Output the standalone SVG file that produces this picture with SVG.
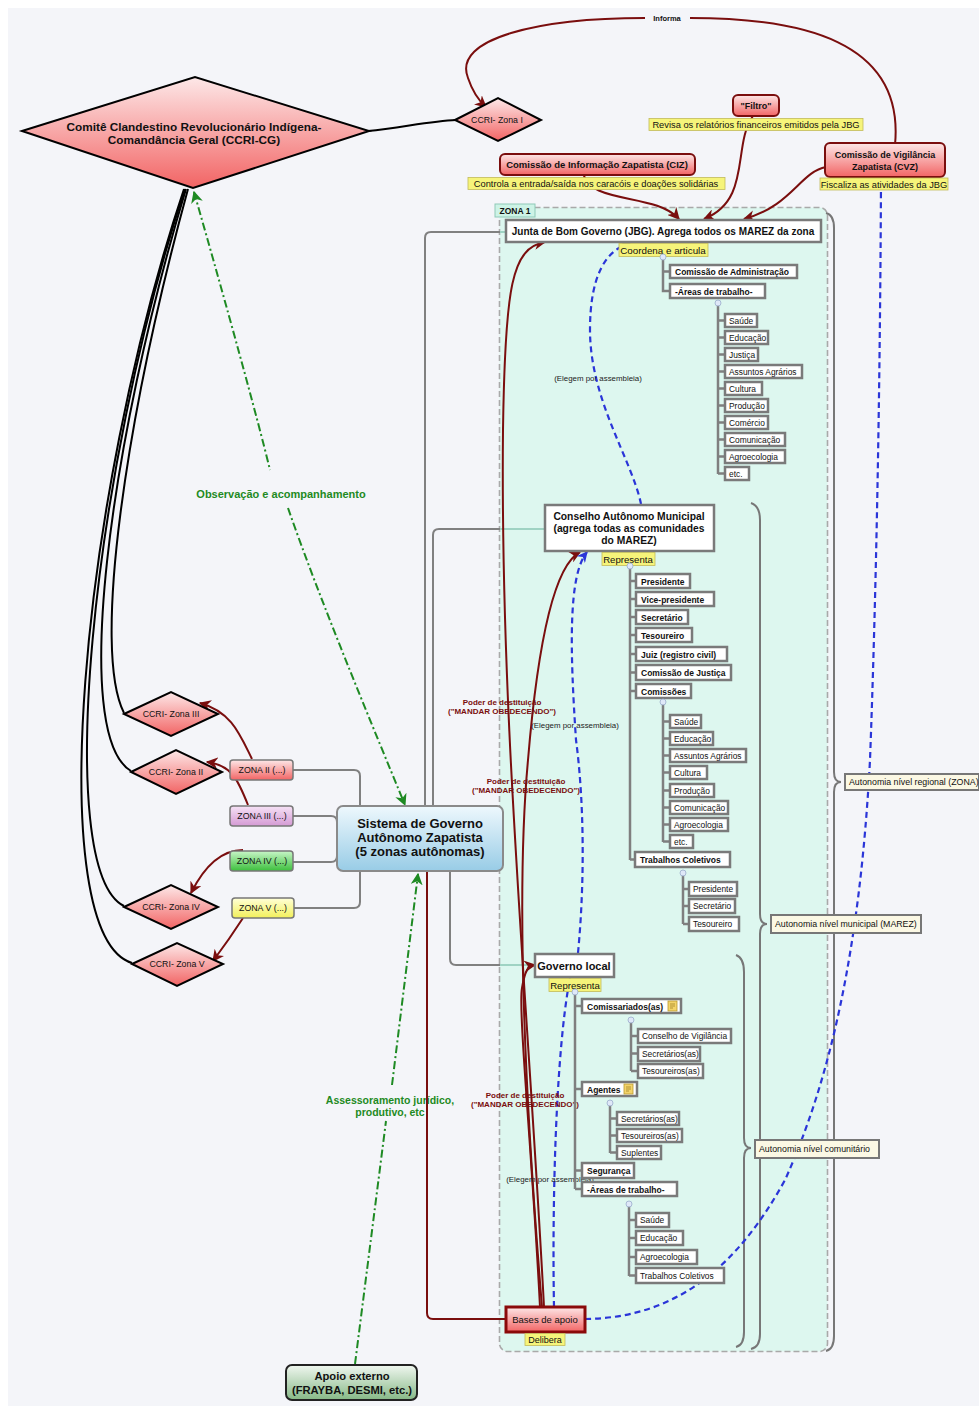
<svg xmlns="http://www.w3.org/2000/svg" width="979" height="1406" viewBox="0 0 979 1406">
<defs>
<style>
.t{font-family:"Liberation Sans",Arial,sans-serif;fill:#111}
.b{font-weight:bold}
.c{text-anchor:middle}
.bx{fill:#fff;stroke:#7a7a7a;stroke-width:2.5}
.yl{fill:#f6f47a;stroke:#c2bb5a;stroke-width:0.8}
.gl{fill:none;stroke:#808080;stroke-width:2}
.tl{fill:none;stroke:#7f7f7f;stroke-width:2.5}
.rd{fill:none;stroke:#7a0e0e;stroke-width:2}
.bl{fill:none;stroke:#2a35d8;stroke-width:2.2;stroke-dasharray:6 4}
.gr{fill:none;stroke:#1e8a23;stroke-width:2;stroke-dasharray:8 3 2 3}
.bk{fill:none;stroke:#000;stroke-width:2}
.br{fill:none;stroke:#777;stroke-width:2}
.lb{fill:#fbf8e4;stroke:#777;stroke-width:2}
.cm{fill:#dfe8f8;stroke:#9aaccc;stroke-width:0.8}
.pd{font-family:"Liberation Sans",Arial,sans-serif;font-weight:bold;font-size:8px;fill:#7a0e0e;text-anchor:middle}
.el{font-family:"Liberation Sans",Arial,sans-serif;font-size:7.9px;fill:#222;text-anchor:middle}
.s{font-size:8.8px}
.i{font-size:8.4px}
.m{font-size:8.5px;font-weight:bold}
.y{font-size:9.3px}
.gt{fill:#1e8a23}
</style>
<linearGradient id="gR" x1="0" y1="0" x2="0" y2="1"><stop offset="0" stop-color="#fde8e8"/><stop offset="1" stop-color="#f26464"/></linearGradient>
<linearGradient id="gB" x1="0" y1="0" x2="0" y2="1"><stop offset="0" stop-color="#eef8fd"/><stop offset="1" stop-color="#98cce6"/></linearGradient>
<linearGradient id="gG" x1="0" y1="0" x2="0" y2="1"><stop offset="0" stop-color="#f0f7f0"/><stop offset="1" stop-color="#86b886"/></linearGradient>
<linearGradient id="gP" x1="0" y1="0" x2="0" y2="1"><stop offset="0" stop-color="#f6e2f6"/><stop offset="1" stop-color="#d49ad4"/></linearGradient>
<linearGradient id="gV" x1="0" y1="0" x2="0" y2="1"><stop offset="0" stop-color="#c8f6c8"/><stop offset="1" stop-color="#3cbf3c"/></linearGradient>
<linearGradient id="gY" x1="0" y1="0" x2="0" y2="1"><stop offset="0" stop-color="#ffffd8"/><stop offset="1" stop-color="#f2f05a"/></linearGradient>
<marker id="aR" viewBox="0 0 10 10" refX="9" refY="5" markerUnits="userSpaceOnUse" markerWidth="12" markerHeight="12" orient="auto"><path d="M0,0 L10,5 L0,10 L3,5z" fill="#7a0e0e"/></marker>
<marker id="aB" viewBox="0 0 10 10" refX="9" refY="5" markerUnits="userSpaceOnUse" markerWidth="11" markerHeight="11" orient="auto"><path d="M0,0 L10,5 L0,10 L3,5z" fill="#2a35d8"/></marker>
<marker id="aG" viewBox="0 0 10 10" refX="9" refY="5" markerUnits="userSpaceOnUse" markerWidth="12" markerHeight="12" orient="auto-start-reverse"><path d="M0,0 L10,5 L0,10 L3,5z" fill="#1e8a23"/></marker>
</defs>

<rect x="0" y="0" width="979" height="1406" fill="#fff"/>
<rect x="8" y="8" width="971" height="1398" fill="#f4f5f9"/>

<!-- Zone 1 container -->
<g id="zona1">
<rect x="499.5" y="207.5" width="328" height="1144" rx="8" fill="#ddf7ef" stroke="#a9a9a9" stroke-width="1.6" stroke-dasharray="6 3"/>
<rect x="495" y="204" width="40" height="13" fill="#cdf3e6" stroke="#8fc9b8" stroke-width="1"/>
<text class="t b" x="515" y="214" font-size="8.5" text-anchor="middle">ZONA 1</text>
</g>

<!-- braces -->
<g id="braces">
<path class="br" d="M826,213 Q834,215 834,228 L834,772 Q834,782 841,782 Q834,782 834,792 L834,1336 Q834,1349 826,1351"/>
<path class="br" d="M751,503 Q760,506 760,520 L760,914 Q760,924 767,924 Q760,924 760,934 L760,1334 Q760,1347 751,1349"/>
<path class="br" d="M736,955 Q744,958 744,972 L744,1138 Q744,1148 751,1148 Q744,1148 744,1158 L744,1332 Q744,1345 736,1347"/>
</g>

<!-- connectors -->
<g id="connectors">
<!-- black lines from CCRI-CG -->
<path class="bk" stroke-width="3" d="M368,131 C400,128 430,121 456,120"/>
<path class="bk" d="M188,189 C125,420 92,650 124,713"/>
<path class="bk" d="M186,189 C110,440 70,735 131,771"/>
<path class="bk" d="M185,189 C92,470 52,870 124,906"/>
<path class="bk" d="M184,189 C80,500 42,935 132,963"/>
<!-- Informa -->
<path class="rd" marker-end="url(#aR)" d="M895,145 C905,40 800,18 690,18 M645,18 C540,18 452,38 468,78 C472,90 478,100 486,107"/>
<text class="t b" x="667" y="21" font-size="7.5" text-anchor="middle">Informa</text>
<!-- CIZ, Filtro, CVZ to JBG -->
<path class="rd" marker-end="url(#aR)" d="M583,172 C588,205 655,192 679,219"/>
<path class="rd" marker-end="url(#aR)" d="M753,116 C732,145 752,200 704,219"/>
<path class="rd" marker-end="url(#aR)" d="M826,167 C800,172 792,206 744,219"/>
<!-- ZONA to CCRI -->
<path class="rd" marker-end="url(#aR)" d="M252,759 C240,735 232,712 200,703"/>
<path class="rd" marker-end="url(#aR)" d="M248,805 C238,780 232,765 207,762"/>
<path class="rd" marker-end="url(#aR)" d="M243,850 C222,850 205,865 191,893"/>
<path class="rd" marker-end="url(#aR)" d="M243,918 C232,935 225,945 213,961"/>
<!-- grey connectors from Sistema -->
<path class="gl" d="M425,806 L425,238 Q425,232 431,232 L500,232"/>
<path d="M500,232 L506,232" stroke="#9fd3c3" stroke-width="2"/>
<path class="gl" d="M433,806 L433,535 Q433,529 439,529 L500,529"/>
<path d="M500,529 L544,529" stroke="#9fd3c3" stroke-width="2"/>
<path class="gl" d="M450,871 L450,959 Q450,965 456,965 L500,965"/>
<path d="M500,965 L535,965" stroke="#9fd3c3" stroke-width="2"/>
<path class="gl" d="M293,770 L354,770 Q360,770 360,776 L360,806"/>
<path class="gl" d="M293,816 L331,816 Q337,816 337,822"/>
<path class="gl" d="M293,862 L331,862 Q337,862 337,856"/>
<path class="gl" d="M293,908 L354,908 Q360,908 360,902 L360,871"/>
<!-- green -->
<path class="gr" marker-start="url(#aG)" d="M194,192 C225,300 258,420 270,470"/>
<path class="gr" marker-end="url(#aG)" d="M288,508 C320,600 370,720 405,805"/>
<text class="t b c gt" x="281" y="498" font-size="11">Observação e acompanhamento</text>
<path class="gr" d="M355,1364 L386,1121"/>
<path class="gr" marker-end="url(#aG)" d="M392,1085 L418,874"/>
<text class="t b c gt" x="390" y="1104" font-size="10.5">Assessoramento jurídico,</text>
<text class="t b c gt" x="390" y="1116" font-size="10.5">produtivo, etc</text>
<!-- dark red from Bases -->
<path class="rd" d="M506,1319 L433,1319 Q427,1319 427,1313 L427,871"/>
<path class="rd" stroke-width="2.4" marker-end="url(#aR)" d="M544,1307 C528,1000 500,720 503,430 C505,285 512,248 545,242"/>
<path class="rd" stroke-width="2.4" marker-end="url(#aR)" d="M542,1307 C525,1100 515,900 528,760 C538,640 555,565 580,552"/>
<path class="rd" stroke-width="2.4" marker-end="url(#aR)" d="M540,1307 C532,1150 518,1010 522,988 C525,970 528,966 535,965"/>
<!-- blue dashed -->
<path class="bl" marker-end="url(#aB)" d="M641,504 C632,460 590,400 590,330 C590,275 606,250 630,243"/>
<path class="bl" marker-end="url(#aB)" d="M578,953 C585,880 584,800 576,740 C570,650 568,575 587,552"/>
<path class="bl" marker-end="url(#aB)" d="M554,1307 C552,1200 556,1050 570,978"/>
<path class="bl" marker-end="url(#aB)" d="M585,1319 C680,1318 740,1262 785,1180 C830,1080 860,950 870,760 C876,600 880,400 881,180"/>
<text class="el" x="598" y="381">(Elegem por assembleia)</text>
<text class="el" x="575" y="728">(Elegem por assembleia)</text>
<text class="el" x="550" y="1182">(Elegem por assembleia)</text>
<text class="pd" x="502" y="705">Poder de destituição</text>
<text class="pd" x="502" y="714">("MANDAR OBEDECENDO")</text>
<text class="pd" x="526" y="784">Poder de destituição</text>
<text class="pd" x="526" y="793">("MANDAR OBEDECENDO")</text>
<text class="pd" x="525" y="1098">Poder de destituição</text>
<text class="pd" x="525" y="1107">("MANDAR OBEDECENDO")</text>
</g>

<!-- CCRI-CG -->
<g id="ccri-cg">
<polygon points="22,131 195,77 369,131 193,188" fill="url(#gR)" stroke="#000" stroke-width="2"/>
<text class="t b c" x="194" y="131" font-size="11.8">Comitê Clandestino Revolucionário Indígena-</text>
<text class="t b c" x="194" y="144" font-size="11.8">Comandância Geral (CCRI-CG)</text>
</g>
<g id="ccri-z1">
<polygon points="455,120 498,98 541,120 498,141" fill="url(#gR)" stroke="#000" stroke-width="2"/>
<text class="t c s" x="497" y="123">CCRI- Zona I</text>
</g>
<g id="ccri-z3">
<polygon points="124,714 171,692 218,714 171,736" fill="url(#gR)" stroke="#000" stroke-width="2"/>
<text class="t c s" x="171" y="717">CCRI- Zona III</text>
</g>
<g id="ccri-z2">
<polygon points="131,772 176,750 222,772 176,794" fill="url(#gR)" stroke="#000" stroke-width="2"/>
<text class="t c s" x="176" y="775">CCRI- Zona II</text>
</g>
<g id="ccri-z4">
<polygon points="124,907 171,885 218,907 171,929" fill="url(#gR)" stroke="#000" stroke-width="2"/>
<text class="t c s" x="171" y="910">CCRI- Zona IV</text>
</g>
<g id="ccri-z5">
<polygon points="132,964 177,943 223,964 177,986" fill="url(#gR)" stroke="#000" stroke-width="2"/>
<text class="t c s" x="177" y="967">CCRI- Zona V</text>
</g>

<!-- commissions -->
<g id="filtro">
<rect x="733" y="95" width="46" height="21" rx="5" fill="url(#gR)" stroke="#7a0e0e" stroke-width="2"/>
<text class="t b c" x="756" y="109" font-size="9">"Filtro"</text>
<rect class="yl" x="649" y="118.5" width="214" height="12"/>
<text class="t c y" x="756" y="128">Revisa os relatórios financeiros emitidos pela JBG</text>
</g>
<g id="ciz">
<rect x="500" y="154" width="195" height="21" rx="5" fill="url(#gR)" stroke="#7a0e0e" stroke-width="2"/>
<text class="t b c" x="597" y="168" font-size="9.5">Comissão de Informação Zapatista (CIZ)</text>
<rect class="yl" x="468" y="177.5" width="257" height="12"/>
<text class="t c y" x="596" y="187">Controla a entrada/saída nos caracóis e doações solidárias</text>
</g>
<g id="cvz">
<rect x="825" y="143" width="120" height="34" rx="5" fill="url(#gR)" stroke="#7a0e0e" stroke-width="2"/>
<text class="t b c" x="885" y="158" font-size="9">Comissão de Vigilância</text>
<text class="t b c" x="885" y="170" font-size="9">Zapatista (CVZ)</text>
<rect class="yl" x="820" y="178" width="128" height="12"/>
<text class="t c y" x="884" y="187.5">Fiscaliza as atividades da JBG</text>
</g>

<!-- JBG -->
<g id="jbg">
<rect class="bx" x="506" y="220" width="315" height="22"/>
<text class="t b c" x="663" y="235" font-size="10">Junta de Bom Governo (JBG). Agrega todos os MAREZ da zona</text>
<rect class="yl" x="619" y="243.5" width="89" height="13"/>
<text class="t c" x="663" y="253.5" font-size="9.8">Coordena e articula</text>
<path class="tl" d="M663,257 L663,291 L670,291 M663,271.5 L670,271.5"/>
<circle class="cm" cx="663" cy="257" r="3"/>
<rect class="bx" x="670" y="265" width="127" height="13"/>
<text class="t m" x="675" y="275">Comissão de Administração</text>
<rect class="bx" x="670" y="284" width="95" height="14"/>
<text class="t m" x="675" y="294.5">-Áreas de trabalho-</text>
<path class="tl" d="M718,303 L718,474 M718,320.5 L725,320.5 M718,337.5 L725,337.5 M718,354.5 L725,354.5 M718,371.5 L725,371.5 M718,388.5 L725,388.5 M718,405.5 L725,405.5 M718,422.5 L725,422.5 M718,439.5 L725,439.5 M718,456.5 L725,456.5 M718,473.5 L725,473.5"/>
<circle class="cm" cx="718" cy="303" r="3"/>
<g class="t i">
<rect class="bx" x="725" y="314" width="32" height="13"/><text x="729" y="323.5">Saúde</text>
<rect class="bx" x="725" y="331" width="43" height="13"/><text x="729" y="340.5">Educação</text>
<rect class="bx" x="725" y="348" width="33" height="13"/><text x="729" y="357.5">Justiça</text>
<rect class="bx" x="725" y="365" width="77" height="13"/><text x="729" y="374.5">Assuntos Agrários</text>
<rect class="bx" x="725" y="382" width="37" height="13"/><text x="729" y="391.5">Cultura</text>
<rect class="bx" x="725" y="399" width="43" height="13"/><text x="729" y="408.5">Produção</text>
<rect class="bx" x="725" y="416" width="43" height="13"/><text x="729" y="425.5">Comércio</text>
<rect class="bx" x="725" y="433" width="60" height="13"/><text x="729" y="442.5">Comunicação</text>
<rect class="bx" x="725" y="450" width="60" height="13"/><text x="729" y="459.5">Agroecologia</text>
<rect class="bx" x="725" y="467" width="24" height="13"/><text x="729" y="476.5">etc.</text>
</g>
</g>

<!-- Conselho -->
<g id="conselho">
<rect class="bx" x="545" y="505" width="169" height="46"/>
<text class="t b c" x="629" y="520" font-size="10.3">Conselho Autônomo Municipal</text>
<text class="t b c" x="629" y="532" font-size="10.3">(agrega todas as comunidades</text>
<text class="t b c" x="629" y="544" font-size="10.3">do MAREZ)</text>
<rect class="yl" x="602" y="552.5" width="53" height="13"/>
<text class="t c" x="628" y="562.5" font-size="9.6">Representa</text>
<path class="tl" d="M630,566 L630,860 M630,581 L636,581 M630,599 L636,599 M630,617 L636,617 M630,635 L636,635 M630,654 L636,654 M630,672.5 L636,672.5 M630,691 L636,691 M630,859.5 L635,859.5"/>
<circle class="cm" cx="630" cy="566" r="3"/>
<g class="t m">
<rect class="bx" x="636" y="574" width="54" height="14"/><text x="641" y="584.5">Presidente</text>
<rect class="bx" x="636" y="592" width="78" height="14"/><text x="641" y="602.5">Vice-presidente</text>
<rect class="bx" x="636" y="610" width="52" height="14"/><text x="641" y="620.5">Secretário</text>
<rect class="bx" x="636" y="628" width="56" height="14"/><text x="641" y="638.5">Tesoureiro</text>
<rect class="bx" x="636" y="647" width="91" height="14"/><text x="641" y="657.5">Juiz (registro civil)</text>
<rect class="bx" x="636" y="665" width="95" height="15"/><text x="641" y="676">Comissão de Justiça</text>
<rect class="bx" x="636" y="684" width="55" height="14"/><text x="641" y="694.5">Comissões</text>
<rect class="bx" x="635" y="852" width="95" height="15"/><text x="640" y="863">Trabalhos Coletivos</text>
</g>
<path class="tl" d="M663,702 L663,842 M663,721.5 L670,721.5 M663,738.5 L670,738.5 M663,755.5 L670,755.5 M663,772.5 L670,772.5 M663,790.5 L670,790.5 M663,807.5 L670,807.5 M663,824.5 L670,824.5 M663,841.5 L670,841.5"/>
<circle class="cm" cx="663" cy="702" r="3"/>
<g class="t i">
<rect class="bx" x="670" y="715" width="31" height="13"/><text x="674" y="724.5">Saúde</text>
<rect class="bx" x="670" y="732" width="43" height="13"/><text x="674" y="741.5">Educação</text>
<rect class="bx" x="670" y="749" width="76" height="13"/><text x="674" y="758.5">Assuntos Agrários</text>
<rect class="bx" x="670" y="766" width="37" height="13"/><text x="674" y="775.5">Cultura</text>
<rect class="bx" x="670" y="784" width="44" height="13"/><text x="674" y="793.5">Produção</text>
<rect class="bx" x="670" y="801" width="58" height="13"/><text x="674" y="810.5">Comunicação</text>
<rect class="bx" x="670" y="818" width="58" height="13"/><text x="674" y="827.5">Agroecologia</text>
<rect class="bx" x="670" y="835" width="23" height="13"/><text x="674" y="844.5">etc.</text>
</g>
<path class="tl" d="M683,873 L683,924 M683,889 L689,889 M683,906 L689,906 M683,924 L689,924"/>
<circle class="cm" cx="683" cy="873" r="3"/>
<g class="t i">
<rect class="bx" x="689" y="882" width="48" height="14"/><text x="693" y="892">Presidente</text>
<rect class="bx" x="689" y="899" width="46" height="14"/><text x="693" y="909">Secretário</text>
<rect class="bx" x="689" y="917" width="50" height="14"/><text x="693" y="927">Tesoureiro</text>
</g>
</g>

<!-- Governo local -->
<g id="governo-local">
<rect class="bx" x="535" y="954" width="79" height="23"/>
<text class="t b c" x="574" y="969.5" font-size="11">Governo local</text>
<rect class="yl" x="549" y="978.5" width="52" height="13"/>
<text class="t c" x="575" y="988.5" font-size="9.6">Representa</text>
<path class="tl" d="M575,992 L575,1189 M575,1006 L582,1006 M575,1089 L582,1089 M575,1170.5 L582,1170.5 M575,1189 L582,1189"/>
<circle class="cm" cx="575" cy="992" r="3"/>
<g class="t m">
<rect class="bx" x="582" y="999" width="99" height="14"/><text x="587" y="1009.5">Comissariados(as)</text>
<rect class="bx" x="582" y="1082" width="55" height="14"/><text x="587" y="1092.5">Agentes</text>
<rect class="bx" x="582" y="1163" width="52" height="15"/><text x="587" y="1174">Segurança</text>
<rect class="bx" x="582" y="1182" width="95" height="14"/><text x="587" y="1192.5">-Áreas de trabalho-</text>
</g>
<g id="notes">
<rect x="668" y="1001" width="9" height="10" fill="#f3d46a" stroke="#b99a30" stroke-width="0.8"/>
<path d="M670,1004 H675 M670,1006 H675 M670,1008 H673" stroke="#8a6a10" stroke-width="0.6"/>
<rect x="624" y="1084" width="9" height="10" fill="#f3d46a" stroke="#b99a30" stroke-width="0.8"/>
<path d="M626,1087 H631 M626,1089 H631 M626,1091 H629" stroke="#8a6a10" stroke-width="0.6"/>
</g>
<path class="tl" d="M631,1020 L631,1071 M631,1036 L638,1036 M631,1053.5 L638,1053.5 M631,1071 L638,1071"/>
<circle class="cm" cx="631" cy="1020" r="3"/>
<path class="tl" d="M610,1103 L610,1153 M610,1118.5 L617,1118.5 M610,1135.5 L617,1135.5 M610,1152.5 L617,1152.5"/>
<circle class="cm" cx="610" cy="1103" r="3"/>
<path class="tl" d="M629,1204 L629,1276 M629,1220 L636,1220 M629,1238 L636,1238 M629,1257 L636,1257 M629,1275.5 L636,1275.5"/>
<circle class="cm" cx="629" cy="1204" r="3"/>
<g class="t i">
<rect class="bx" x="638" y="1029" width="93" height="14"/><text x="642" y="1039">Conselho de Vigilância</text>
<rect class="bx" x="638" y="1047" width="62" height="14"/><text x="642" y="1057">Secretários(as)</text>
<rect class="bx" x="638" y="1064" width="65" height="14"/><text x="642" y="1074">Tesoureiros(as)</text>
<rect class="bx" x="617" y="1112" width="62" height="13"/><text x="621" y="1121.5">Secretários(as)</text>
<rect class="bx" x="617" y="1129" width="65" height="13"/><text x="621" y="1138.5">Tesoureiros(as)</text>
<rect class="bx" x="617" y="1146" width="44" height="13"/><text x="621" y="1155.5">Suplentes</text>
<rect class="bx" x="636" y="1213" width="33" height="14"/><text x="640" y="1223">Saúde</text>
<rect class="bx" x="636" y="1231" width="47" height="14"/><text x="640" y="1241">Educação</text>
<rect class="bx" x="636" y="1250" width="61" height="14"/><text x="640" y="1260">Agroecologia</text>
<rect class="bx" x="636" y="1268" width="88" height="15"/><text x="640" y="1278.5">Trabalhos Coletivos</text>
</g>
</g>

<!-- Bases de apoio -->
<g id="bases">
<rect x="506" y="1307" width="79" height="25" fill="url(#gR)" stroke="#8a0a0a" stroke-width="3"/>
<text class="t c" x="545" y="1323" font-size="9.5">Bases de apoio</text>
<rect class="yl" x="525" y="1333.5" width="40" height="12"/>
<text class="t c" x="545" y="1343" font-size="9">Delibera</text>
</g>

<!-- Sistema -->
<g id="sistema">
<rect x="337" y="806" width="166" height="65" rx="6" fill="url(#gB)" stroke="#8a8a8a" stroke-width="2"/>
<text class="t b c" x="420" y="828" font-size="13">Sistema de Governo</text>
<text class="t b c" x="420" y="842" font-size="13">Autônomo Zapatista</text>
<text class="t b c" x="420" y="856" font-size="13">(5 zonas autônomas)</text>
</g>

<!-- Zones -->
<g id="zona2"><rect x="230" y="760" width="63" height="20" rx="3" fill="url(#gR)" stroke="#777" stroke-width="1.5"/><text class="t c s" x="262" y="773">ZONA II (...)</text></g>
<g id="zona3"><rect x="230" y="806" width="63" height="20" rx="3" fill="url(#gP)" stroke="#777" stroke-width="1.5"/><text class="t c s" x="262" y="819">ZONA III (...)</text></g>
<g id="zona4"><rect x="230" y="851" width="63" height="20" rx="3" fill="url(#gV)" stroke="#777" stroke-width="1.5"/><text class="t c s" x="262" y="864">ZONA IV (...)</text></g>
<g id="zona5"><rect x="232" y="898" width="62" height="20" rx="3" fill="url(#gY)" stroke="#777" stroke-width="1.5"/><text class="t c s" x="263" y="911">ZONA V (...)</text></g>

<!-- Apoio externo -->
<g id="apoio-externo">
<rect x="286" y="1365" width="131" height="35" rx="6" fill="url(#gG)" stroke="#222" stroke-width="2"/>
<text class="t b c" x="352" y="1380" font-size="11.2">Apoio externo</text>
<text class="t b c" x="352" y="1394" font-size="11.2">(FRAYBA, DESMI, etc.)</text>
</g>

<!-- brace labels -->
<g id="lbl-regional"><rect class="lb" x="845" y="774" width="134" height="16"/><text class="t s" x="849" y="785">Autonomia nível regional (ZONA)</text></g>
<g id="lbl-municipal"><rect class="lb" x="771" y="915" width="150" height="18"/><text class="t s" x="775" y="927">Autonomia nível municipal (MAREZ)</text></g>
<g id="lbl-comunitario"><rect class="lb" x="755" y="1140" width="124" height="18"/><text class="t s" x="759" y="1152">Autonomia nível comunitário</text></g>
</svg>
